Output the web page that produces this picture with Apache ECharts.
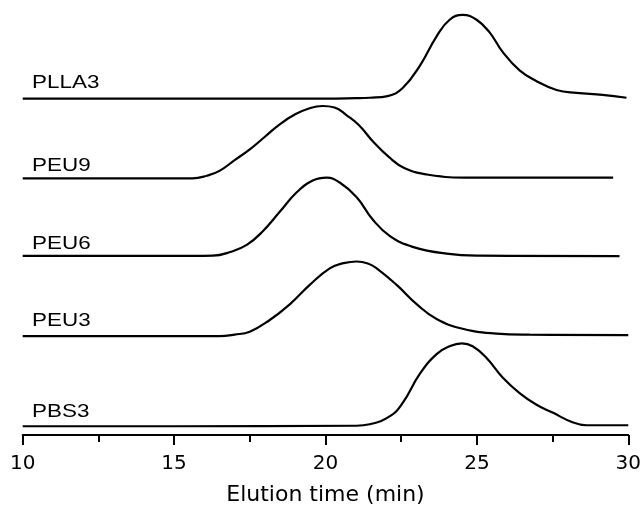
<!DOCTYPE html>
<html>
<head>
<meta charset="utf-8">
<script src="https://cdn.jsdelivr.net/npm/echarts@6/dist/echarts.min.js"></script>
<style>
  html, body { margin: 0; padding: 0; background: #ffffff; }
  #chart { width: 644px; height: 511px; }
</style>
</head>
<body>
<div id="chart"></div>
<script>
// ---- Data (elution time in min, stacked detector response in arbitrary offset units) ----
const seriesNames = ['PLLA3', 'PEU9', 'PEU6', 'PEU3', 'PBS3'];

const PLLA3 = [[10,339],[15,339],[20,339],[21,339.5],[21.46,340],[22.05,341.7],[22.55,350],[23.12,373],
  [23.67,403],[24.10,420],[24.53,425],[24.99,420],[25.42,407],[25.85,387],[26.41,368],
  [26.97,357],[27.63,348],[28.29,345],[29.15,343],[29.94,340]];

const PEU9 = [[10,257.3],[15,257.3],[15.6,257.3],[16.08,260],[16.5,265],[17.0,276],[17.5,287],
  [18.0,300],[18.5,313],[19.0,323],[19.5,329.5],[19.9,331.5],[20.3,330],[20.7,322],[21.1,312],
  [21.6,294],[22.1,279],[22.6,268],[23.4,261],[24.8,258],[29.5,258]];

const PEU6 = [[10,177.7],[15,177.7],[16.28,178],[16.85,181.7],[17.4,189],[17.93,203],[18.49,223],
  [19.05,243],[19.58,255],[20.04,258],[20.47,253],[21.03,238],[21.56,215],[22.13,198],[22.88,187],
  [24.0,180],[25.09,178],[29.71,177.5]];

const PEU3 = [[10,95.5],[15,95.5],[16.5,95.5],[17.0,97],[17.5,100],[18.16,112],[18.82,128],[19.48,148],
  [20.14,165],[20.6,170.3],[21.03,172],[21.4,170],[21.69,165],[22.35,148],[23.02,128],[23.67,113],[24.53,103],
  [25.65,98],[26.74,97],[30,96.5]];

const PBS3 = [[10,3],[15,3],[21,3.5],[21.46,5],[22.13,13.3],[22.55,27],[23.12,57],[23.67,77],[24.10,85],
  [24.50,88],[24.86,85],[25.32,73],[25.85,53],[26.41,37],[26.97,25],[27.5,17],[28.16,7],[28.62,4],[30,4]];

const curves = [PLLA3, PEU9, PEU6, PEU3, PBS3];

// label anchor (time, vertical middle of the label text in the same units)
const labelTime = 10.31;
const labelLevels = [355, 270.5, 190, 111.5, 18];

const xTicks = [10, 15, 20, 25, 30];
const xTitle = 'Elution time (min)';

// ---- Chart ----
const chart = echarts.init(document.getElementById('chart'), null, { renderer: 'canvas' });

const option = {
  animation: false,
  backgroundColor: '#ffffff',
  grid: { left: 22.7, right: 15, top: 10, bottom: 65, containLabel: false },
  xAxis: {
    type: 'value',
    min: xTicks[0],
    max: xTicks[xTicks.length - 1],
    interval: 5,
    axisLine: { show: true, onZero: false, lineStyle: { color: '#000', width: 2 } },
    axisTick: { show: true, inside: false, length: 10, lineStyle: { color: '#000', width: 2 } },
    minorTick: { show: true, splitNumber: 2, length: 7, lineStyle: { color: '#000', width: 2 } },
    splitLine: { show: false },
    axisLabel: { color: '#000', fontSize: 20, fontFamily: 'DejaVu Sans', margin: 19 },
    name: xTitle,
    nameLocation: 'middle',
    nameGap: 49,
    nameTextStyle: { color: '#000', fontSize: 22, fontFamily: 'DejaVu Sans' }
  },
  yAxis: {
    type: 'value',
    min: -6,
    max: 430,
    show: false
  },
  series: curves.map((d, i) => ({
    name: seriesNames[i],
    type: 'line',
    data: d,
    smooth: 0.45,
    showSymbol: false,
    symbol: 'none',
    lineStyle: { color: '#000', width: 2.2 },
    z: 3
  }))
};

chart.setOption(option);

// series name labels, positioned through the chart's own coordinate system
const graphics = seriesNames.map((name, i) => {
  const p = chart.convertToPixel({ gridIndex: 0 }, [labelTime, labelLevels[i]]);
  return {
    type: 'text',
    x: p[0],
    y: p[1],
    scaleX: 1.18,
    style: {
      text: name,
      fill: '#000',
      font: '19px "Liberation Sans", Arial, sans-serif',
      align: 'left',
      verticalAlign: 'middle'
    },
    z: 10
  };
});
chart.setOption({ graphic: graphics });
</script>
</body>
</html>
